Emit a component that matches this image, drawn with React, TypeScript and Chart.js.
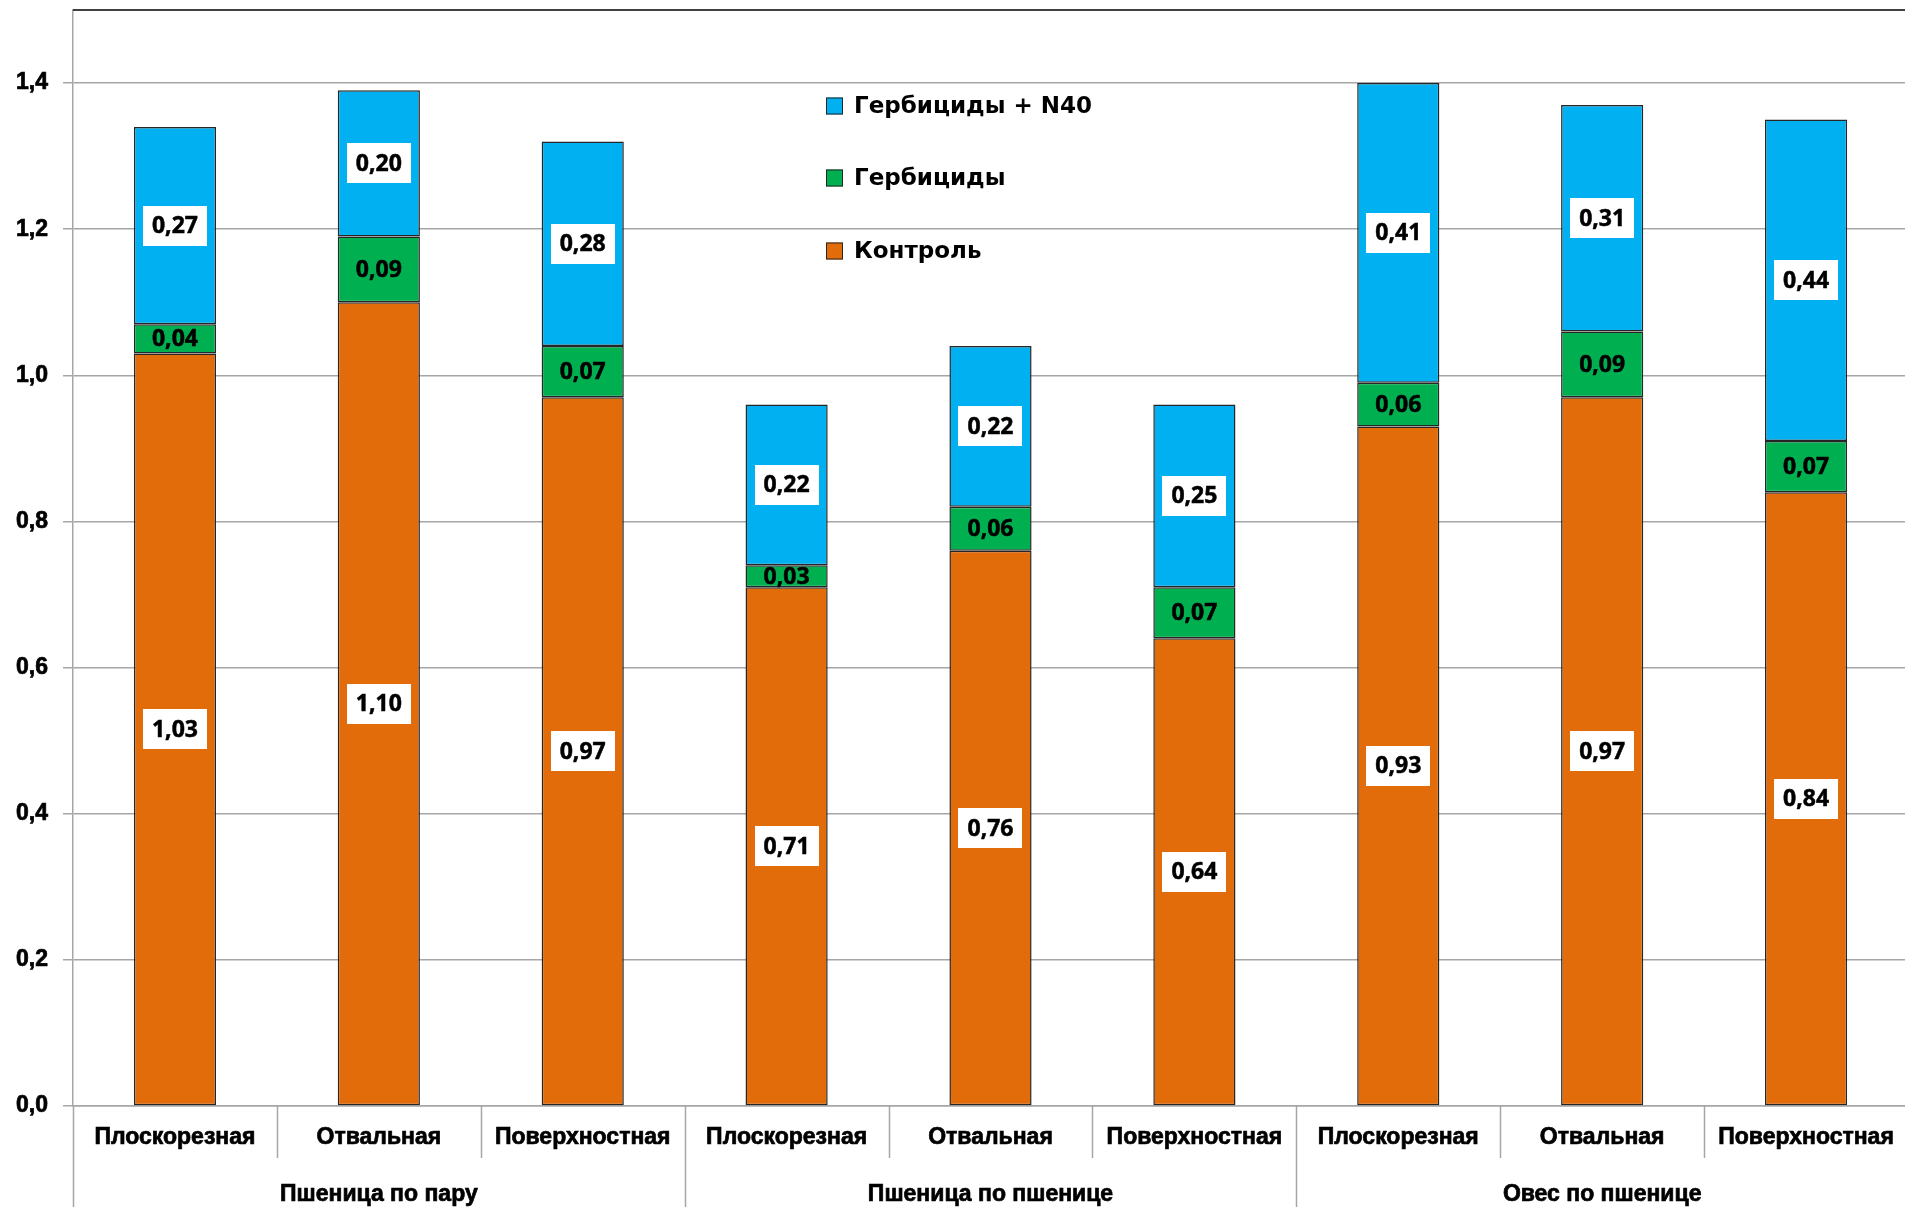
import React, { useEffect, useRef } from "react";
import { Chart, registerables } from "chart.js";

Chart.register(...registerables);

// ---- Data ----
const categories = [
  "Плоскорезная", "Отвальная", "Поверхностная",
  "Плоскорезная", "Отвальная", "Поверхностная",
  "Плоскорезная", "Отвальная", "Поверхностная",
];
const groups = ["Пшеница по пару", "Пшеница по пшенице", "Овес по пшенице"];
const groupSizes = [3, 3, 3];
const seriesNames = ["Контроль", "Гербициды", "Гербициды + N40"];
const control = [1.03, 1.10, 0.97, 0.71, 0.76, 0.64, 0.93, 0.97, 0.84];
const herbicides = [0.04, 0.09, 0.07, 0.03, 0.06, 0.07, 0.06, 0.09, 0.07];
const herbicidesN40 = [0.27, 0.20, 0.28, 0.22, 0.22, 0.25, 0.41, 0.31, 0.44];
const yTicks = [0, 0.2, 0.4, 0.6, 0.8, 1.0, 1.2, 1.4];

const COLORS = ["#E36C0A", "#00B050", "#00B0F0"];
const GRID = "#a6a6a6";
const BASE_FONT = "'Liberation Sans', Arial, sans-serif";
const LEGEND_FONT = "'DejaVu Sans', Verdana, sans-serif";
const LABEL_FONT = "'Open Sans', 'DejaVu Sans', sans-serif";

const fmt = (v: number, d: number) => v.toFixed(d).replace(".", ",");

const decorPlugin = {
  id: "decor",
  afterDraw(chart: any) {
    const { ctx, chartArea } = chart;
    const xs = chart.scales.x;
    const H = chart.height;
    ctx.save();
    // top border of the plot area
    ctx.strokeStyle = "#404040";
    ctx.lineWidth = 2;
    ctx.beginPath();
    ctx.moveTo(chartArea.left, chartArea.top);
    ctx.lineTo(chartArea.right, chartArea.top);
    ctx.stroke();

    // category separators
    const step = xs.getPixelForValue(1) - xs.getPixelForValue(0);
    ctx.strokeStyle = GRID;
    ctx.lineWidth = 1.5;
    const groupStarts: number[] = [];
    let acc = 0;
    groupSizes.forEach((s) => { groupStarts.push(acc); acc += s; });
    for (let i = 0; i <= categories.length; i++) {
      const px = Math.round(xs.getPixelForValue(i) - step / 2) + 0.5;
      const isGroup = groupStarts.includes(i) || i === categories.length;
      ctx.beginPath();
      ctx.moveTo(px, chartArea.bottom);
      ctx.lineTo(px, isGroup ? H : chartArea.bottom + 52);
      ctx.stroke();
    }

    // group labels
    ctx.fillStyle = "#000";
    ctx.strokeStyle = "#000";
    ctx.lineWidth = 0.7;
    ctx.font = `bold 23px ${BASE_FONT}`;
    ctx.textAlign = "center";
    ctx.textBaseline = "alphabetic";
    groups.forEach((g, gi) => {
      const first = groupStarts[gi];
      const last = first + groupSizes[gi] - 1;
      const cx = (xs.getPixelForValue(first) + xs.getPixelForValue(last)) / 2;
      ctx.fillText(g, cx, chartArea.bottom + 95);
      ctx.strokeText(g, cx, chartArea.bottom + 95);
    });

    // legend (custom placement inside plot)
    const order = [2, 1, 0];
    const lx = chartArea.left + 753;
    const lys = [106, 178, 251];
    ctx.font = `bold 23px ${LEGEND_FONT}`;
    ctx.textAlign = "left";
    ctx.textBaseline = "middle";
    order.forEach((di, k) => {
      const ds = chart.data.datasets[di];
      const y = lys[k];
      ctx.fillStyle = ds.backgroundColor;
      ctx.fillRect(lx, y - 8.5, 17, 17);
      ctx.strokeStyle = "#262626";
      ctx.lineWidth = 1;
      ctx.strokeRect(lx + 0.5, y - 8, 16, 16);
      ctx.fillStyle = "#000";
      ctx.fillText(ds.label, lx + 28, y + 1);
    });
    ctx.restore();
  },
};

const labelPlugin = {
  id: "valueLabels",
  afterDatasetsDraw(chart: any) {
    const { ctx } = chart;
    ctx.save();
    ctx.font = `bold 23px ${LABEL_FONT}`;
    ctx.textAlign = "center";
    ctx.textBaseline = "middle";
    ctx.lineWidth = 0.5;
    ctx.strokeStyle = "#000";
    chart.data.datasets.forEach((ds: any, di: number) => {
      const meta = chart.getDatasetMeta(di);
      meta.data.forEach((bar: any, i: number) => {
        const v = ds.data[i] as number;
        const text = fmt(v, 2);
        const cy = (bar.y + bar.base) / 2;
        const cx = bar.x;
        if (di !== 1) {
          const w = ctx.measureText(text).width + 18;
          const h = 40;
          ctx.fillStyle = "#ffffff";
          ctx.fillRect(Math.round(cx - w / 2), Math.round(cy - h / 2), Math.round(w), h);
        }
        ctx.fillStyle = "#000";
        ctx.fillText(text, cx, cy + 1);
        ctx.strokeText(text, cx, cy + 1);
      });
    });
    ctx.restore();
  },
};

export default function App() {
  const ref = useRef<HTMLCanvasElement | null>(null);
  useEffect(() => {
    if (!ref.current) return;
    const seriesData = [control, herbicides, herbicidesN40];
    const chart = new Chart(ref.current, {
      type: "bar",
      data: {
        labels: categories,
        datasets: seriesData.map((d, i) => ({
          label: seriesNames[i],
          data: d,
          backgroundColor: COLORS[i],
          borderColor: "#262626",
          borderWidth: 1.5,
          borderSkipped: false,
          barPercentage: 0.403,
          categoryPercentage: 1,
        })),
      },
      options: {
        responsive: false,
        animation: false,
        devicePixelRatio: 1,
        layout: { padding: { top: 10, left: 0, right: 0, bottom: 0 } },
        plugins: { legend: { display: false }, tooltip: { enabled: false } },
        scales: {
          x: {
            stacked: true,
            afterFit: (s: any) => { s.height = 101; s.paddingLeft = 0; s.paddingRight = 0; },
            grid: { display: false, drawTicks: false },
            border: { display: true, color: GRID, width: 1.5 },
            ticks: {
              padding: 18,
              color: "#000",
              autoSkip: false,
              maxRotation: 0,
              textStrokeColor: "#000",
              textStrokeWidth: 0.7,
              font: { family: BASE_FONT, weight: "bold", size: 23 },
            },
          },
          y: {
            stacked: true,
            min: 0,
            max: 1.5,
            afterBuildTicks: (s: any) => { s.ticks = yTicks.map((v) => ({ value: v })); },
            afterFit: (s: any) => { s.width = 73; s.paddingTop = 0; s.paddingBottom = 0; },
            grid: { color: GRID, lineWidth: 1.5, tickLength: 10, drawTicks: true },
            border: { display: true, color: GRID, width: 1.5 },
            ticks: {
              padding: 15,
              color: "#000",
              textStrokeColor: "#000",
              textStrokeWidth: 0.7,
              font: { family: BASE_FONT, weight: "bold", size: 23 },
              callback: (v: any) => fmt(Number(v), 1),
            },
          },
        },
      },
      plugins: [labelPlugin, decorPlugin],
    });
    return () => chart.destroy();
  }, []);
  return (
    <div style={{ position: "absolute", left: 0, top: 0, width: 1905, height: 1207, overflow: "hidden", background: "#fff" }}>
      <canvas ref={ref} width={1908} height={1207} style={{ display: "block" }} />
    </div>
  );
}
